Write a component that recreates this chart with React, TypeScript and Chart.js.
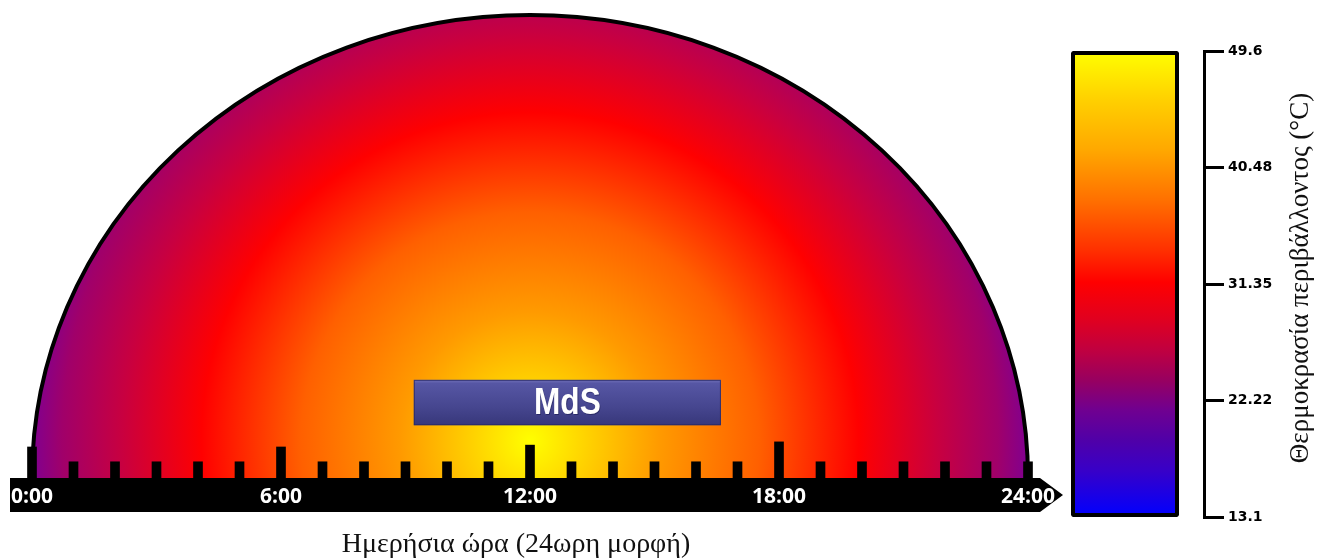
import React, { useEffect, useRef } from 'react';
import { Chart, registerables } from 'chart.js';

Chart.register(...registerables);

// ---- data ----
const hours = [0, 1, 2, 3, 4, 5, 6, 7, 8, 9, 10, 11, 12, 13, 14, 15, 16, 17, 18, 19, 20, 21, 22, 23, 24];
const hourTickHeights = [6.7, 3.5, 3.5, 3.5, 3.5, 3.5, 6.7, 3.5, 3.5, 3.5, 3.5, 3.5, 7.1, 3.5, 3.5, 3.5, 3.5, 3.5, 7.8, 3.5, 3.5, 3.5, 3.5, 3.5, 3.5];
const hourLabelStep = 6;
const domeCenterHour = 12;
const domeHeight = 100;
const glowHeight = 8;
const mdsLabel = 'MdS';
const mdsStartHour = 9.2;
const mdsEndHour = 16.6;
const mdsLow = 11.4;
const mdsHigh = 21.2;
const tempMin = 13.1;
const tempMax = 49.6;
const tempTickValues = [13.1, 22.22, 31.35, 40.48, 49.6];
const tempTickLabels = ['13.1', '22.22', '31.35', '40.48', '49.6'];
const xTitle = 'Ημερήσια ώρα (24ωρη μορφή)';
const colorbarTitle = 'Θερμοκρασία περιβάλλοντος (°C)';

// ---- styles ----
const domeStops: [number, string][] = [
  [0, '#ffff00'],
  [0.12, '#ffd000'],
  [0.26, '#ff9a00'],
  [0.46, '#ff6000'],
  [0.66, '#ff0000'],
  [0.82, '#c80040'],
  [0.94, '#a0006a'],
  [1, '#800090'],
];
const colorbarStops: [number, string][] = [
  [0, '#0000ff'],
  [0.1, '#3800c8'],
  [0.165, '#5000a8'],
  [0.23, '#700090'],
  [0.294, '#980060'],
  [0.358, '#c00040'],
  [0.423, '#e00020'],
  [0.504, '#ff0000'],
  [0.573, '#ff3000'],
  [0.68, '#ff7000'],
  [0.788, '#ffa800'],
  [0.895, '#ffd000'],
  [1, '#ffff00'],
];

const domePlugin = {
  id: 'dome',
  beforeDraw(chart: any) {
    const { ctx, scales } = chart;
    const x = scales.x;
    const y = scales.y;
    const cx = x.getPixelForValue(domeCenterHour);
    const base = y.getPixelForValue(0);
    const rx = x.getPixelForValue(hours[hours.length - 1]) - cx;
    const ry = base - y.getPixelForValue(domeHeight);
    const gy = y.getPixelForValue(glowHeight);
    ctx.save();
    const g = ctx.createRadialGradient(cx, gy, 0, cx, gy, rx);
    domeStops.forEach(([o, c]) => g.addColorStop(o, c));
    ctx.beginPath();
    ctx.ellipse(cx, base, rx, ry, 0, Math.PI, 2 * Math.PI);
    ctx.closePath();
    ctx.fillStyle = g;
    ctx.fill();
    ctx.beginPath();
    ctx.ellipse(cx, base, rx, ry, 0, Math.PI, 2 * Math.PI);
    ctx.lineWidth = 4;
    ctx.strokeStyle = '#000';
    ctx.stroke();

    // black time bar with arrow
    const top = x.top;
    const bottom = x.top + 34;
    const left = x.left - 22;
    const right = x.right + 12;
    const tip = x.right + 35;
    ctx.beginPath();
    ctx.moveTo(left, top);
    ctx.lineTo(right, top);
    ctx.lineTo(tip, (top + bottom) / 2);
    ctx.lineTo(right, bottom);
    ctx.lineTo(left, bottom);
    ctx.closePath();
    ctx.fillStyle = '#000';
    ctx.fill();
    ctx.restore();
  },
  afterDatasetsDraw(chart: any) {
    const { ctx, scales } = chart;
    const x = scales.x;
    const y = scales.y;
    const x0 = x.getPixelForValue(mdsStartHour);
    const x1 = x.getPixelForValue(mdsEndHour);
    const y0 = y.getPixelForValue(mdsHigh);
    const y1 = y.getPixelForValue(mdsLow);
    ctx.save();
    const g = ctx.createLinearGradient(0, y0, 0, y1);
    g.addColorStop(0, '#7070b8');
    g.addColorStop(0.08, '#5656a4');
    g.addColorStop(0.6, '#46468f');
    g.addColorStop(1, '#37377a');
    ctx.fillStyle = g;
    ctx.fillRect(x0, y0, x1 - x0, y1 - y0);
    ctx.strokeStyle = 'rgba(40,40,100,0.8)';
    ctx.lineWidth = 1;
    ctx.strokeRect(x0 + 0.5, y0 + 0.5, x1 - x0 - 1, y1 - y0 - 1);
    ctx.translate((x0 + x1) / 2, (y0 + y1) / 2 + 1);
    ctx.scale(0.88, 1.05);
    ctx.font = 'bold 36px "Liberation Sans", Arial, sans-serif';
    ctx.textAlign = 'center';
    ctx.textBaseline = 'middle';
    ctx.fillStyle = 'rgba(0,0,40,0.35)';
    ctx.fillText(mdsLabel, 1, 1);
    ctx.fillStyle = '#ffffff';
    ctx.fillText(mdsLabel, 0, 0);
    ctx.restore();
  },
  afterDraw(chart: any) {
    const { ctx, scales } = chart;
    const x = scales.x;
    ctx.save();
    ctx.font = '28px "Liberation Serif", "DejaVu Serif", serif';
    ctx.fillStyle = '#111';
    ctx.textAlign = 'center';
    ctx.textBaseline = 'middle';
    ctx.fillText(xTitle, (x.left + x.right) / 2 - 14, 545);
    ctx.restore();
  },
};

const colorbarTitlePlugin = {
  id: 'cbTitle',
  afterDraw(chart: any) {
    const { ctx } = chart;
    ctx.save();
    ctx.translate(261, 278);
    ctx.rotate(-Math.PI / 2);
    ctx.font = '27px "Liberation Serif", "DejaVu Serif", serif';
    ctx.fillStyle = '#111';
    ctx.textAlign = 'center';
    ctx.textBaseline = 'middle';
    ctx.fillText(colorbarTitle, 0, 0);
    ctx.restore();
  },
};

export default function App() {
  const mainRef = useRef<HTMLCanvasElement>(null);
  const cbRef = useRef<HTMLCanvasElement>(null);

  useEffect(() => {
    const main = new Chart(mainRef.current as HTMLCanvasElement, {
      type: 'bar',
      data: {
        datasets: [
          {
            data: hours.map((h, i) => ({ x: h, y: hourTickHeights[i] })),
            backgroundColor: '#000',
            barThickness: 9,
            clip: false,
          } as any,
        ],
      },
      options: {
        animation: false,
        responsive: false,
        layout: { padding: { left: 32, right: 42, top: 15, bottom: 0 } },
        plugins: { legend: { display: false }, tooltip: { enabled: false } },
        scales: {
          x: {
            type: 'linear',
            min: hours[0],
            max: hours[hours.length - 1],
            offset: false,
            afterFit: (s: any) => {
              s.height = 82;
            },
            grid: { display: false, drawTicks: false },
            border: { display: false },
            ticks: {
              stepSize: hourLabelStep,
              padding: 6,
              color: '#ffffff',
              maxRotation: 0,
              autoSkip: false,
              font: { family: '"Open Sans"', weight: 'bold', size: 21 },
              callback: (v: any) => `${v}:00`,
            },
          },
          y: { display: false, min: 0, max: domeHeight },
        },
      } as any,
      plugins: [domePlugin],
    });

    const cb = new Chart(cbRef.current as HTMLCanvasElement, {
      type: 'bar',
      data: {
        labels: [''],
        datasets: [
          {
            data: [[tempMin, tempMax]],
            backgroundColor: (c: any) => {
              const ch = c.chart;
              if (!ch.chartArea) return '#ff0000';
              const ys = ch.scales.y;
              const g = ch.ctx.createLinearGradient(0, ys.getPixelForValue(tempMin), 0, ys.getPixelForValue(tempMax));
              colorbarStops.forEach(([o, col]) => g.addColorStop(o, col));
              return g;
            },
            borderColor: '#000',
            borderWidth: 4,
            borderSkipped: false,
            borderRadius: 2,
            barPercentage: 1,
            categoryPercentage: 0.6835,
          } as any,
        ],
      },
      options: {
        animation: false,
        responsive: false,
        layout: { padding: { left: 6, top: 51, bottom: 43, right: 0 } },
        plugins: { legend: { display: false }, tooltip: { enabled: false } },
        scales: {
          x: { display: false },
          y: {
            position: 'right',
            min: tempMin,
            max: tempMax,
            afterBuildTicks: (s: any) => {
              s.ticks = tempTickValues.map((v) => ({ value: v }));
            },
            afterFit: (s: any) => {
              s.width = 124;
            },
            grid: { drawOnChartArea: false, drawTicks: true, tickLength: 20, lineWidth: 3, color: '#000' },
            border: { display: true, color: '#000', width: 3 },
            ticks: {
              padding: 4,
              color: '#000',
              font: { family: '"DejaVu Sans"', weight: 'bold', size: 14 },
              callback: (_v: any, i: number) => tempTickLabels[i],
            },
          },
        },
      } as any,
      plugins: [colorbarTitlePlugin],
    });

    return () => {
      main.destroy();
      cb.destroy();
    };
  }, []);

  return (
    <div style={{ position: 'fixed', left: 0, top: 0, width: 1328, height: 560, background: '#fff' }}>
      <canvas ref={mainRef} width={1070} height={560} style={{ position: 'absolute', left: 0, top: 0 }} />
      <canvas ref={cbRef} width={288} height={560} style={{ position: 'absolute', left: 1040, top: 0 }} />
    </div>
  );
}
